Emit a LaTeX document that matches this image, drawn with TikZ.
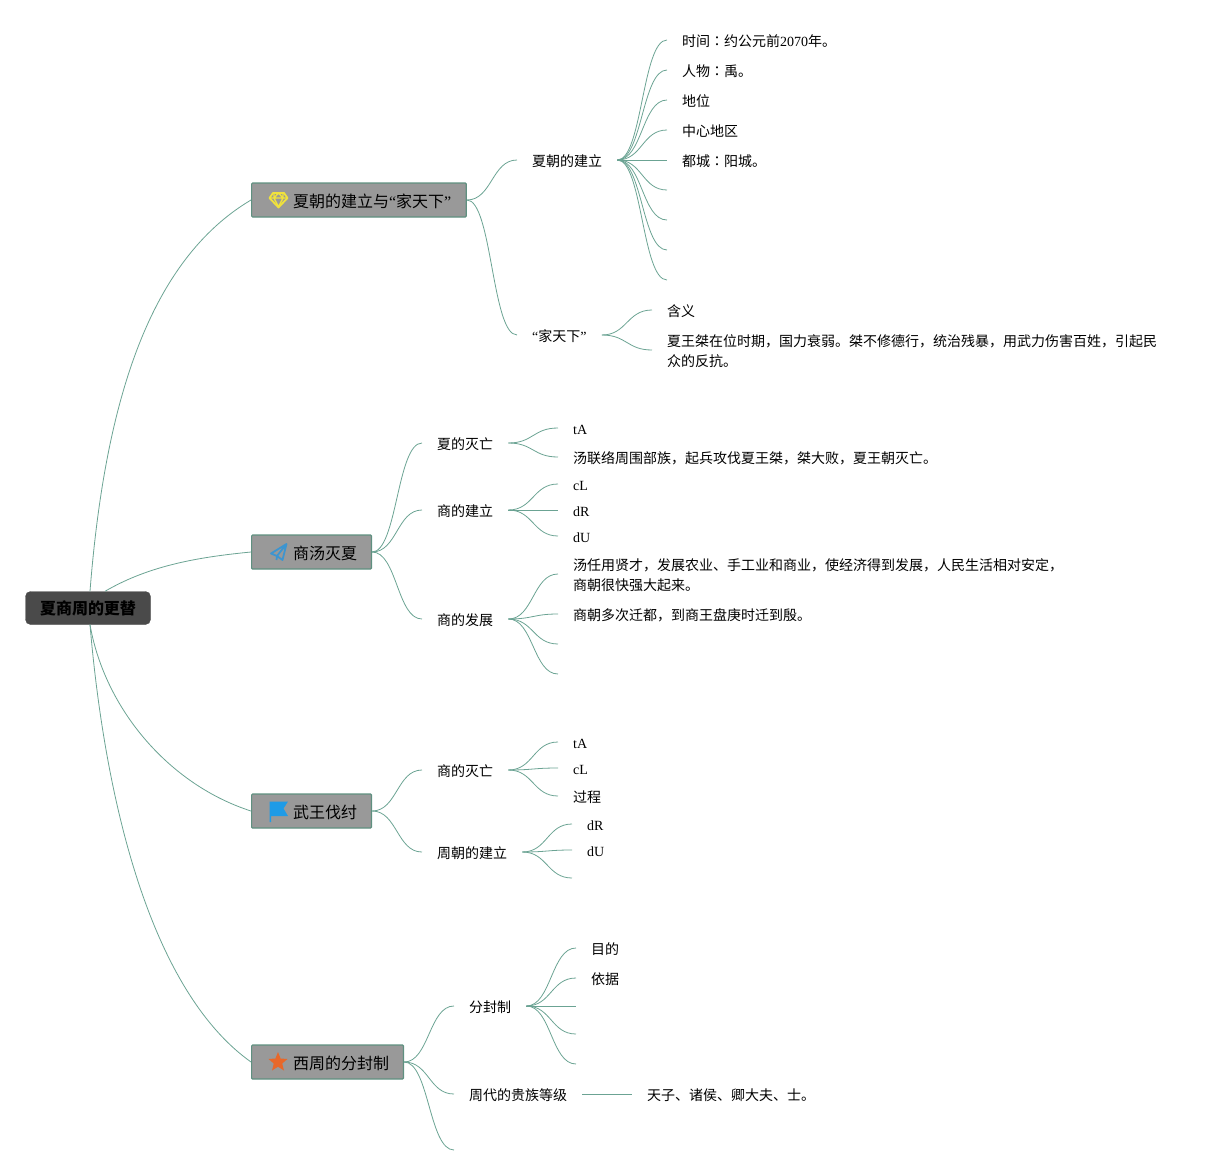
\documentclass[tikz,border=0pt]{standalone}
\usepackage{fontspec}
\setmainfont{Liberation Serif}
\newfontfamily\cjk{Noto Sans CJK SC}
\newfontfamily\cjktc{Noto Sans CJK TC}
\newcommand{\C}[1]{{\cjk #1}}
\newcommand{\Col}{{\cjktc ：}}
\usetikzlibrary{calc}
\definecolor{linkc}{HTML}{6BA393}
\definecolor{boxline}{HTML}{5F9080}
\definecolor{boxg}{HTML}{999999}
\definecolor{rootg}{HTML}{4A4A4A}
\definecolor{gemc}{HTML}{F0E23C}
\definecolor{planec}{HTML}{3D95D0}
\definecolor{flagc}{HTML}{1F9BE6}
\definecolor{starc}{HTML}{E8682A}
\tikzset{
  link/.style={draw=linkc,line width=0.8pt},
  txt/.style={anchor=west,inner xsep=15pt,inner ysep=0pt,text height=13pt,text depth=1pt,font=\fontsize{14}{20}\selectfont},
  wraptxt/.style={anchor=west,inner xsep=15pt,inner ysep=0pt,align=left,font=\fontsize{14}{20}\selectfont},
  topbox/.style={anchor=west,draw=boxline,line width=1.2pt,fill=boxg,rounded corners=1pt,minimum height=34pt,inner xsep=14.5pt,inner ysep=0pt,text height=15pt,text depth=0pt,font=\fontsize{16}{20}\selectfont},
  rootbox/.style={draw=rootg,fill=rootg,rounded corners=5pt,minimum width=125pt,minimum height=33pt,inner sep=0pt,text height=14pt,text depth=1pt,font=\fontsize{16}{20}\selectfont\bfseries},
}
\newcommand{\conn}[2]{\draw[link] let \p1=(#1),\p2=(#2),\n1={(\x2-\x1)*0.5} in (\p1) .. controls (\x1+\n1,\y1) and (\x2-\n1,\y2) .. (\p2);}
\begin{document}
\begin{tikzpicture}[x=1pt,y=-1pt]
\useasboundingbox (0,0) rectangle (1227,1175);
% root and top boxes
\node[rootbox] (root) at (88,608) {\C{夏商周的更替}};
\node[topbox] (b1) at (251,200) {\hspace*{26.9pt}\C{夏朝的建立与}“\C{家天下}”\hspace*{0.6pt}};
\node[topbox] (b2) at (251,552) {\hspace*{26.9pt}\C{商汤灭夏}};
\node[topbox] (b3) at (251,811) {\hspace*{26.9pt}\C{武王伐纣}};
\node[topbox] (b4) at (251,1062) {\hspace*{26.9pt}\C{西周的分封制}};
% root connectors
\draw[link] ([xshift=2pt]root.north) .. controls (105,400) and (150,260) .. (b1.west);
\draw[link] ([xshift=17pt]root.north) .. controls (150,565) and (200,557) .. (b2.west);
\draw[link] ([xshift=2pt]root.south) .. controls (105,710) and (170,785) .. (b3.west);
\draw[link] ([xshift=2pt]root.south) .. controls (105,800) and (150,990) .. (b4.west);
% branch 1
\node[txt] (a1) at (517,160) {\C{夏朝的建立}};
\node[txt] (a2) at (517,335) {“\C{家天下}”};
\conn{b1.east}{a1.west} \conn{b1.east}{a2.west}
\node[txt] (a11) at (667,40) {\C{时间}\Col\C{约公元前}2070\C{年。}};
\node[txt] (a12) at (667,70) {\C{人物}\Col\C{禹。}};
\node[txt] (a13) at (667,100) {\C{地位}};
\node[txt] (a14) at (667,130) {\C{中心地区}};
\node[txt] (a15) at (667,160) {\C{都城}\Col\C{阳城。}};
\coordinate (a16) at (667,190);
\coordinate (a17) at (667,220);
\coordinate (a18) at (667,250);
\coordinate (a19) at (667,280);
\foreach \leaf in {a11.west,a12.west,a13.west,a14.west,a15.west,a16,a17,a18,a19} {\conn{a1.east}{\leaf}}
\node[txt] (a21) at (652,310) {\C{含义}};
\node[wraptxt] (a22) at (652,351.5) {\C{夏王桀在位时期，国力衰弱。桀不修德行，统治残暴，用武力伤害百姓，引起民}\\\C{众的反抗。}};
\conn{a2.east}{a21.west} \conn{a2.east}{[yshift=1.5pt]a22.west}
% branch 2
\node[txt] (c1) at (422,443) {\C{夏的灭亡}};
\node[txt] (c2) at (422,510) {\C{商的建立}};
\node[txt] (c3) at (422,619) {\C{商的发展}};
\conn{b2.east}{c1.west} \conn{b2.east}{c2.west} \conn{b2.east}{c3.west}
\node[txt] (c11) at (558,428) {tA};
\node[txt] (c12) at (558,457) {\C{汤联络周围部族，起兵攻伐夏王桀，桀大败，夏王朝灭亡。}};
\conn{c1.east}{c11.west} \conn{c1.east}{c12.west}
\node[txt] (c21) at (558,484) {cL};
\node[txt] (c22) at (558,510) {dR};
\node[txt] (c23) at (558,536) {dU};
\conn{c2.east}{c21.west} \conn{c2.east}{c22.west} \conn{c2.east}{c23.west}
\node[wraptxt] (c31) at (558,575.5) {\C{汤任用贤才，发展农业、手工业和商业，使经济得到发展，人民生活相对安定，}\\\C{商朝很快强大起来。}};
\node[txt] (c32) at (558,614) {\C{商朝多次迁都，到商王盘庚时迁到殷。}};
\coordinate (c33) at (558,644);
\coordinate (c34) at (558,674);
\conn{c3.east}{[yshift=1.5pt]c31.west} \conn{c3.east}{c32.west} \conn{c3.east}{c33} \conn{c3.east}{c34}
% branch 3
\node[txt] (d1) at (422,770) {\C{商的灭亡}};
\node[txt] (d2) at (422,852) {\C{周朝的建立}};
\conn{b3.east}{d1.west} \conn{b3.east}{d2.west}
\node[txt] (d11) at (558,742) {tA};
\node[txt] (d12) at (558,768) {cL};
\node[txt] (d13) at (558,796) {\C{过程}};
\conn{d1.east}{d11.west} \conn{d1.east}{d12.west} \conn{d1.east}{d13.west}
\node[txt] (d21) at (572,824) {dR};
\node[txt] (d22) at (572,850) {dU};
\coordinate (d23) at (572,878);
\conn{d2.east}{d21.west} \conn{d2.east}{d22.west} \conn{d2.east}{d23}
% branch 4
\node[txt] (e1) at (454,1006) {\C{分封制}};
\node[txt] (e2) at (454,1094) {\C{周代的贵族等级}};
\coordinate (e3) at (454,1150);
\conn{b4.east}{e1.west} \conn{b4.east}{e2.west} \conn{b4.east}{e3}
\node[txt] (e11) at (576,948) {\C{目的}};
\node[txt] (e12) at (576,978) {\C{依据}};
\coordinate (e13) at (576,1006);
\coordinate (e14) at (576,1034);
\coordinate (e15) at (576,1064);
\conn{e1.east}{e11.west} \conn{e1.east}{e12.west} \conn{e1.east}{e13} \conn{e1.east}{e14} \conn{e1.east}{e15}
\node[txt] (e21) at (632,1094) {\C{天子、诸侯、卿大夫、士。}};
\draw[link] (e2.east) -- (e21.west);
% icons
\begin{scope}[draw=gemc,line width=1.8pt,line join=round]
\draw (273,193) -- (284,193) -- (287.5,198) -- (278.5,207.5) -- (269.5,198) -- cycle;
\draw[line width=1.4pt] (270,198) -- (287,198) (274,198) -- (278.5,207) -- (283,198) (274,193) -- (274,198) (283,193) -- (283,198) (278.5,193) -- (274,198) (278.5,193) -- (283,198);
\end{scope}
\draw[draw=planec,line width=1.8pt,line join=round] (286.5,544) -- (271,553.5) -- (277,556) -- (286.5,544) -- (282.5,560) -- (277,556) -- (276.5,560);
\fill[flagc] (269.5,801.5) -- (288,801.5) -- (283.5,808.5) -- (288,816) -- (271,816) -- (271,822) -- (269.5,822) -- cycle;
\fill[starc] (278,1052) -- (280.6,1058.5) -- (287.5,1059) -- (282.2,1063.5) -- (284,1070.5) -- (278,1066.7) -- (272,1070.5) -- (273.8,1063.5) -- (268.5,1059) -- (275.4,1058.5) -- cycle;
\end{tikzpicture}
\end{document}
